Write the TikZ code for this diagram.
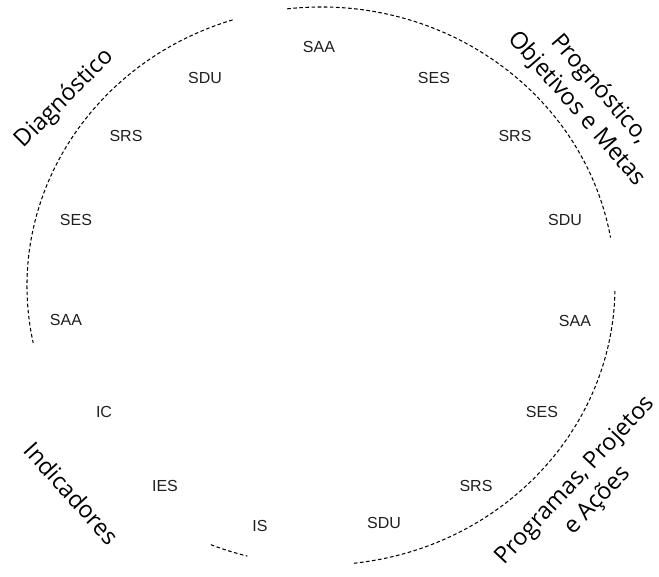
\documentclass[tikz,border=0pt]{standalone}
\usepackage{fontspec}
\setmainfont{Liberation Sans}
\newfontfamily\opensans{Open Sans}
\begin{document}
\begin{tikzpicture}[x=1pt,y=1pt,
  arcline/.style={draw=black, line width=1.05pt, dash pattern=on 3.6pt off 2.5pt},
  lab/.style={font=\fontsize{16}{19}\selectfont, text=black!88, inner sep=0pt},
  phase/.style={font=\opensans\fontsize{23.5}{30}\selectfont, text=black, align=center, inner sep=0pt}]
\useasboundingbox (0,0) rectangle (659,577);
\coordinate (C) at (321,291);
% dashed arcs
\draw[arcline] (C) ++(107.5:294pt and 279pt) arc[start angle=107.5, end angle=191.8, x radius=294pt, y radius=279pt];
\draw[arcline] (C) ++(96.6:294pt and 279pt) arc[start angle=96.6, end angle=10, x radius=294pt, y radius=279pt];
\draw[arcline] (C) ++(-1:294pt and 279pt) arc[start angle=-1, end angle=-84, x radius=294pt, y radius=279pt];
\draw[arcline] (C) ++(-112:294pt and 279pt) arc[start angle=-112, end angle=-104.5, x radius=294pt, y radius=279pt];
% inner labels
\node[lab] (saa1) at (319,530) {SAA};
\node[lab] (sdu1) at (205,499) {SDU};
\node[lab] (srs1) at (126,441) {SRS};
\node[lab] (ses1) at (76,357) {SES};
\node[lab] (saa2) at (66,257) {SAA};
\node[lab] (ic) at (104,165) {IC};
\node[lab] (ies) at (165,91) {IES};
\node[lab] (is) at (260,51) {IS};
\node[lab] (sdu2) at (384,54) {SDU};
\node[lab] (srs2) at (476,91) {SRS};
\node[lab] (ses2) at (542,165) {SES};
\node[lab] (saa3) at (575,256) {SAA};
\node[lab] (sdu3) at (565,357) {SDU};
\node[lab] (srs3) at (515,441) {SRS};
\node[lab] (ses3) at (434,499) {SES};
% phase labels
\node[phase, rotate=45] (diag) at (65,478) {Diagnóstico};
\node[phase, rotate=-49] (prog) at (588,478) {Prognóstico,\\Objetivos e Metas};
\node[phase, rotate=-48] (ind) at (72,84) {Indicadores};
\node[phase, rotate=47] (prg) at (587,86) {Programas, Projetos\\e Ações};
\end{tikzpicture}
\end{document}
